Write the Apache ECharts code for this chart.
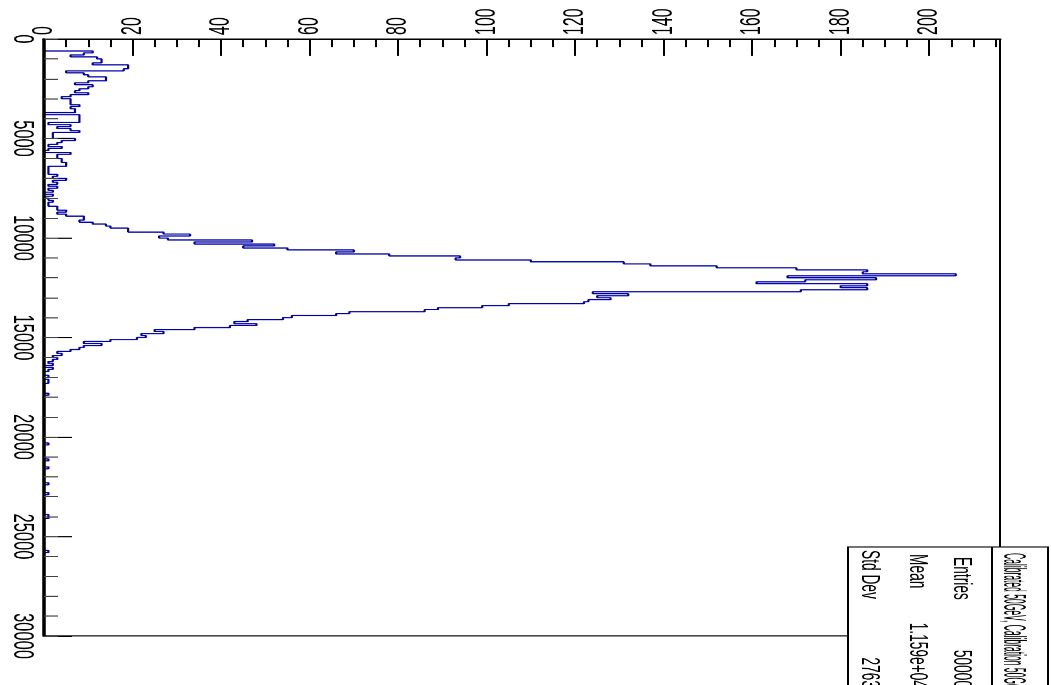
<!DOCTYPE html>
<html><head><meta charset="utf-8">
<script src="https://cdn.jsdelivr.net/npm/echarts@6/dist/echarts.min.js"></script>
<style>
html,body{margin:0;padding:0;overflow:hidden;background:#fff;}
#wrap{width:1051px;height:685px;overflow:hidden;position:relative;background:#fff;}
#chart{width:1051px;transform-origin:0 0;}
</style></head><body>
<div id="wrap"><div id="chart"></div></div>
<script>
// ---- data ----
const binWidth = 100;
const posMin = 0, posMax = 30000;
const countMax = 216;
// bins 0..89 (0 - 9000)
const countsLow = [0,0,0,0,0,0,11,9,6,12,13,13,11,19,19,18,5,9,10,14,
  14,10,7,11,10,8,7,10,6,4,6,6,6,8,6,7,7,0,8,8,
  8,8,1,6,3,6,8,2,2,2,7,4,3,1,4,1,0,6,3,3,
  4,4,5,5,1,1,1,1,3,2,5,2,3,1,3,1,2,0,2,0,
  1,2,1,1,3,3,5,3,5,9];
// bins 90..179 (9000 - 18000)
const countsPeak = [9,8,11,14,15,19,19,27,33,26,
  28,47,34,52,45,55,70,66,78,94,
  93,110,131,137,152,170,186,185,206,168,
  188,172,161,186,180,186,171,124,132,125,
  128,123,122,105,99,89,86,69,66,56,
  54,46,43,48,42,34,25,27,22,23,
  21,15,9,13,9,8,6,3,4,2,
  3,2,1,2,0,2,1,0,0,1,
  0,1,1,0,0,0,0,0,1,0];
// isolated tail bins (index, count)
const tailBins   = [203,211,215,223,228,239,240,257];
const tailCounts = [1,1,1,1,1,1,1,1];
const statsTitle = 'Calibrated 50GeV, Calibration 50GeV';
const statsNames = ['Entries','Mean','Std Dev'];
const statsValues = ['50000','1.159e+04','2763'];

// ---- layout (image px; y compressed by SY) ----
const SY = 0.55;
const W = 1051, H = Math.round(685 / SY);
const el = document.getElementById('chart');
el.style.height = H + 'px';
el.style.transform = 'scaleY(' + SY + ')';

const nBins = Math.round((posMax - posMin) / binWidth);
const counts = countsLow.concat(countsPeak);
while (counts.length < nBins) counts.push(0);
tailBins.forEach((b, i) => { counts[b] = tailCounts[i]; });

const pts = [[0, posMin]];
counts.forEach((c, i) => {
  const lo = posMin + i * binWidth, hi = lo + binWidth;
  pts.push([c, lo], [c, hi]);
});
pts.push([0, posMax]);

const FONT = 'Liberation Sans, Arial, sans-serif';
const chart = echarts.init(el, null, {renderer: 'canvas', width: W, height: H});
const gTop = 39 / SY, gBottom = H - 636 / SY;
const yS = v => v / SY;

const statsGraphics = [
  {type: 'rect', shape: {x: 848, y: yS(547), width: 200, height: H}, style: {fill: '#fff', stroke: '#000', lineWidth: 2}, z: 100},
  {type: 'line', shape: {x1: 992, y1: yS(547), x2: 992, y2: H}, style: {stroke: '#000', lineWidth: 2}, z: 101},
  {type: 'text', x: 1013, y: yS(553), rotation: -Math.PI / 2, scaleX: 0.5, z: 102,
    style: {text: statsTitle, font: '31px ' + FONT, fill: '#000', align: 'left', verticalAlign: 'middle'}}
];
const rowX = [961, 917, 869];
const rowY = [557, 554, 550];
statsNames.forEach((n, i) => {
  statsGraphics.push({type: 'text', x: rowX[i], y: yS(rowY[i]), rotation: -Math.PI / 2, z: 102,
    style: {text: n, font: '25px ' + FONT, fill: '#000', align: 'left', verticalAlign: 'middle'}});
  statsGraphics.push({type: 'text', x: rowX[i], y: yS(688), rotation: -Math.PI / 2, z: 102,
    style: {text: statsValues[i], font: '25px ' + FONT, fill: '#000', align: 'right', verticalAlign: 'middle'}});
});

chart.setOption({
  animation: false,
  backgroundColor: '#fff',
  grid: {left: 44, right: W - 1000, top: gTop, bottom: gBottom, show: true, borderColor: '#000', borderWidth: 2, outerBoundsMode: 'none', containLabel: false},
  xAxis: [
    {type: 'value', position: 'top', min: 0, max: countMax, interval: 20, z: 10,
      axisLine: {show: true, onZero: false, lineStyle: {color: '#000', width: 3}},
      axisTick: {show: true, inside: true, length: 17 / SY, lineStyle: {color: '#000', width: 2}},
      axisLabel: {show: true, rotate: -90, margin: 4 / SY, fontSize: 29, fontFamily: FONT, color: '#000', showMaxLabel: false},
      splitLine: {show: false}},
    {type: 'value', position: 'top', min: 0, max: countMax, interval: 5, z: 10,
      axisLine: {show: false}, axisLabel: {show: false}, splitLine: {show: false},
      axisTick: {show: true, inside: true, length: 8 / SY, lineStyle: {color: '#000', width: 2}}}
  ],
  yAxis: [
    {type: 'value', position: 'left', inverse: true, min: posMin, max: posMax, interval: 5000, z: 10,
      axisLine: {show: true, onZero: false, lineStyle: {color: '#000', width: 3.5}},
      axisTick: {show: true, inside: true, length: 28, lineStyle: {color: '#000', width: 2}},
      axisLabel: {show: true, rotate: -90, margin: 7, fontSize: 30, fontFamily: FONT, color: '#000',
        formatter: v => String(v)},
      splitLine: {show: false}},
    {type: 'value', position: 'left', inverse: true, min: posMin, max: posMax, interval: 1000, z: 10,
      axisLine: {show: false}, axisLabel: {show: false}, splitLine: {show: false},
      axisTick: {show: true, inside: true, length: 14, lineStyle: {color: '#444', width: 2}}}
  ],
  series: [{
    type: 'line', xAxisIndex: 0, yAxisIndex: 0, data: pts, showSymbol: false, symbol: 'none',
    lineStyle: {color: '#0000a8', width: 2.2}, z: 1, silent: true
  }],
  graphic: statsGraphics
});
</script>
</body></html>
